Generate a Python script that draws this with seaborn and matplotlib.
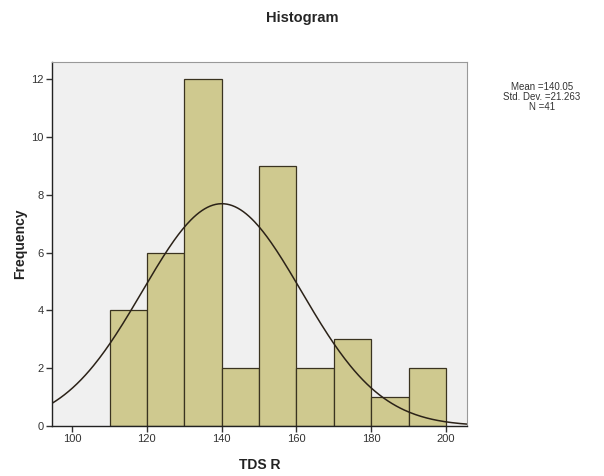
import numpy as np
import matplotlib
matplotlib.use("Agg")
import matplotlib.pyplot as plt
import seaborn as sns

# Histogram of TDS R (bin width 10)
bin_edges = [110, 120, 130, 140, 150, 160, 170, 180, 190, 200]
counts = [4, 6, 12, 2, 9, 2, 3, 1, 2]
mean_val = 140.05
std_val = 21.263
n_val = 41

sns.set_style("white")
plt.rcParams["font.family"] = ["Liberation Sans", "DejaVu Sans"]

fig = plt.figure(figsize=(6.04, 4.76), dpi=100)
ax = fig.add_axes([0.086, 0.105, 0.687, 0.765])
ax.set_facecolor("#f0f0f0")

centers = [(a + b) / 2 for a, b in zip(bin_edges[:-1], bin_edges[1:])]
sns.histplot(x=centers, weights=counts, bins=bin_edges, ax=ax,
             color="#cfc98f", alpha=1.0, edgecolor="#3a3320", linewidth=0.9)

# normal curve scaled to counts
xlim = (94.6, 205.6)
xs = np.linspace(xlim[0], xlim[1], 300)
bw = bin_edges[1] - bin_edges[0]
ys = n_val * bw * np.exp(-0.5 * ((xs - mean_val) / std_val) ** 2) / (std_val * np.sqrt(2 * np.pi))
ax.plot(xs, ys, color="#2b2218", linewidth=1.1)

ax.set_xlim(*xlim)
ax.set_ylim(0, 12.6)
ax.set_xticks([100, 120, 140, 160, 180, 200])
ax.set_yticks([0, 2, 4, 6, 8, 10, 12])
ax.tick_params(axis="both", bottom=True, left=True, labelsize=8, colors="#333333",
               length=4, width=1, direction="out", pad=2)
for side in ["left", "bottom"]:
    ax.spines[side].set_color("#222222")
    ax.spines[side].set_linewidth(1.0)
for side in ["top", "right"]:
    ax.spines[side].set_color("#999999")
    ax.spines[side].set_linewidth(0.8)

ax.set_xlabel("TDS R", fontsize=10, fontweight="bold", color="#222222", labelpad=10)
ax.set_ylabel("Frequency", fontsize=10, fontweight="bold", color="#222222", labelpad=3)
fig.text(0.5, 0.962, "Histogram", ha="center", va="center", fontsize=10.5, fontweight="bold")

fig.text(0.897, 0.796,
         f"Mean ={mean_val:.2f}\nStd. Dev. ={std_val:.3f}\nN ={n_val}",
         ha="center", va="center", fontsize=7, linespacing=1.0, color="#333333")

fig.savefig("out.png", dpi=100)
